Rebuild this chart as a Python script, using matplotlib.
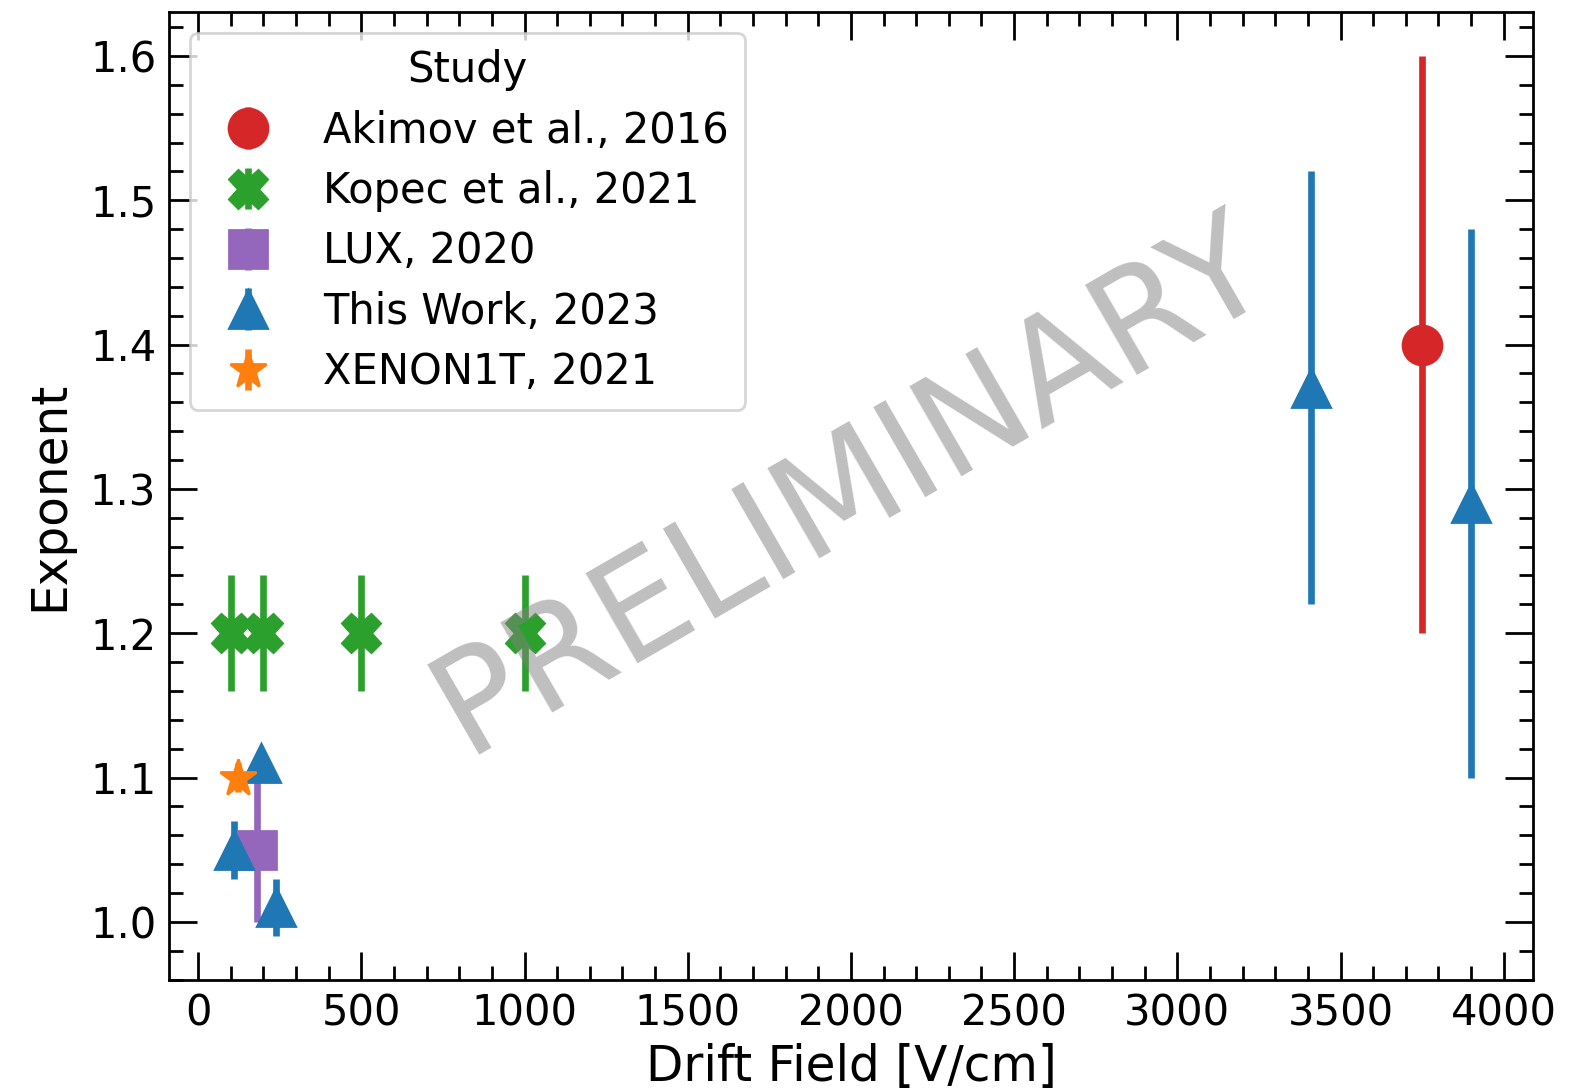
import numpy as np
import matplotlib.pyplot as plt

# data
studies = ["Akimov et al., 2016", "Kopec et al., 2021", "LUX, 2020",
           "This Work, 2023", "XENON1T, 2021"]
markers = ["o", "X", "s", "^", "*"]
colors = ["tab:red", "tab:green", "tab:purple", "tab:blue", "tab:orange"]

akimov_field = [3750]
akimov_exp = [1.40]
akimov_err = [0.20]

kopec_field = [100, 200, 500, 1000]
kopec_exp = [1.20, 1.20, 1.20, 1.20]
kopec_err = [0.04, 0.04, 0.04, 0.04]

lux_field = [180]
lux_exp = [1.05]
lux_err = [0.05]

work_field = [110, 193, 240, 3410, 3900]
work_exp = [1.05, 1.11, 1.01, 1.37, 1.29]
work_err = [0.02, 0.01, 0.02, 0.15, 0.19]

xenon_field = [123]
xenon_exp = [1.10]
xenon_err = [0.01]

fields = [akimov_field, kopec_field, lux_field, work_field, xenon_field]
exps = [akimov_exp, kopec_exp, lux_exp, work_exp, xenon_exp]
errs = [akimov_err, kopec_err, lux_err, work_err, xenon_err]

fig, ax = plt.subplots(figsize=(7.96, 5.44), dpi=200)
fig.subplots_adjust(left=0.106, right=0.963, top=0.989, bottom=0.099)

for name, m, c, x, y, e in zip(studies, markers, colors, fields, exps, errs):
    ax.errorbar(x, y, yerr=e, fmt=m, color=c, markersize=14,
                elinewidth=2.4, capsize=0, label=name)

ax.set_xlabel("Drift Field [V/cm]", fontsize=17.5, labelpad=3)
ax.set_ylabel("Exponent", fontsize=17.5, labelpad=6)
ax.set_xlim(-90, 4090)
ax.set_ylim(0.9595, 1.6305)
ax.set_xticks(np.arange(0, 4001, 500))
ax.set_xticks(np.arange(0, 4001, 100), minor=True)
ax.set_yticks(np.arange(1.0, 1.61, 0.1))
ax.set_yticks(np.arange(0.96, 1.63, 0.02), minor=True)
ax.tick_params(which="both", direction="in", top=True, right=True,
               labelsize=15, width=1.0)
ax.tick_params(which="major", length=10, pad=4.5)
ax.tick_params(which="minor", length=5)
for s in ax.spines.values():
    s.set_linewidth(1.0)

ax.legend(title="Study", fontsize=15, title_fontsize=15, loc="upper left",
          borderaxespad=0.5, labelspacing=0.44)

ax.text(0.5, 0.51, "PRELIMINARY", transform=ax.transAxes, fontsize=51,
        color="gray", alpha=0.5, rotation=30, ha="center", va="center")

fig.savefig("out.png")
